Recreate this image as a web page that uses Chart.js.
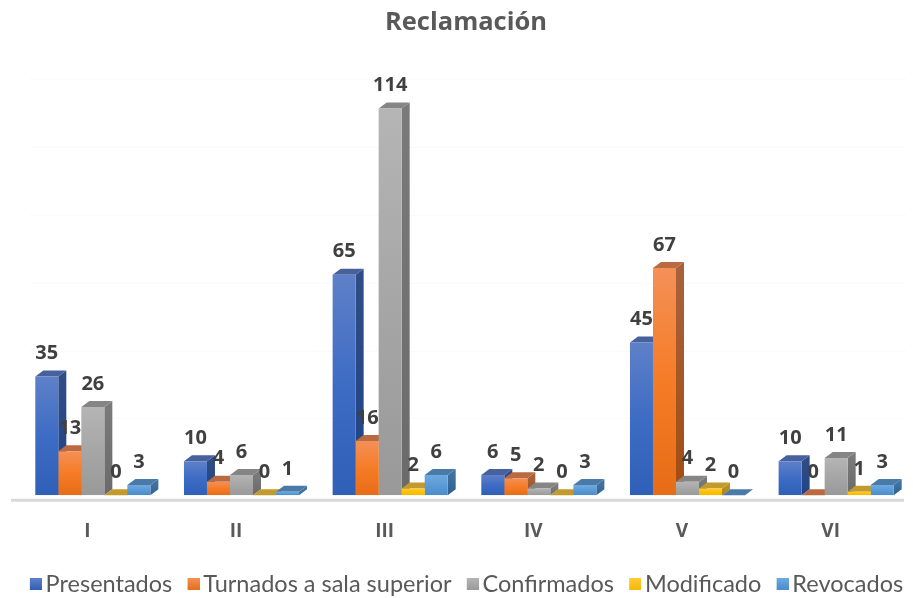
<!DOCTYPE html>
<html lang="es">
<head>
<meta charset="utf-8">
<title>Reclamación</title>
<script src="https://cdn.jsdelivr.net/npm/chart.js@4/dist/chart.umd.js"></script>
<style>
  html, body { margin: 0; padding: 0; background: #fff; }
  canvas { display: block; }
</style>
</head>
<body>
<canvas id="chart" width="913" height="598"></canvas>
<script>
const categories = ["I", "II", "III", "IV", "V", "VI"]
const seriesNames = ["Presentados", "Turnados a sala superior", "Confirmados", "Modificado", "Revocados"]
const presentados = [35, 10, 65, 6, 45, 10]
const turnados = [13, 4, 16, 5, 67, 0]
const confirmados = [26, 6, 114, 2, 4, 11]
const modificado = [0, 0, 2, 0, 2, 1]
const revocados = [3, 1, 6, 3, 0, 3]

// colores: frente (arriba, medio, abajo), lado, tapa
const palette = [
  { front: ["#5f80c8", "#3d6cc4", "#2f5fb6"], side: ["#2f4c86", "#1f4488"], top: "#46619b" },
  { front: ["#f49058", "#f57c26", "#e86c17"], side: ["#a8623a", "#a34c10"], top: "#b96a40" },
  { front: ["#b5b5b5", "#a6a6a6", "#999999"], side: ["#7a7a7a", "#6a6a6a"], top: "#858585" },
  { front: ["#ffcb3a", "#ffc000", "#f5b800"], side: ["#b88f20", "#a88000"], top: "#c39a2c" },
  { front: ["#6fa9e0", "#5b9bd5", "#4a8bcb"], side: ["#3f72a0", "#2f6090"], top: "#4a7ba8" },
]

const depthX = 8
const depthY = 6

const frontGradient = (context) => {
  const chart = context.chart
  const colors = palette[context.datasetIndex].front
  const top = chart.scales.y.getPixelForValue(context.raw)
  const base = chart.scales.y.getPixelForValue(0)
  if (!(base > top)) return colors[1]
  const g = chart.ctx.createLinearGradient(0, top, 0, base)
  g.addColorStop(0, colors[0])
  g.addColorStop(0.5, colors[1])
  g.addColorStop(1, colors[2])
  return g
}

// cuadros de la leyenda (lienzo simétrico para acercar el cuadro al texto)
const legendBox = (colors) => {
  const c = document.createElement("canvas")
  c.width = 18
  c.height = 12
  const x = c.getContext("2d")
  const g = x.createLinearGradient(0, 0, 0, 12)
  g.addColorStop(0, colors[0])
  g.addColorStop(1, colors[2])
  x.fillStyle = g
  x.fillRect(6, 0, 12, 12)
  return c
}

const bars3d = {
  id: "bars3d",
  afterLayout(chart) {
    // titulo y leyenda no van centrados en el lienzo
    chart.titleBlock.left += 9.5
    chart.titleBlock.right += 9.5
    chart.legend.left += 11
    chart.legend.right += 11
    chart.legend.top += 8
    chart.legend.bottom += 8
  },
  // lados y tapas en 3D, antes de que la librería pinte los frentes
  beforeDatasetsDraw(chart) {
    const ctx = chart.ctx
    const yScale = chart.scales.y
    ctx.save()

    // líneas de la pared del fondo
    ctx.strokeStyle = "#fafafa"
    ctx.lineWidth = 1
    yScale.ticks.forEach((tick) => {
      if (tick.value === 0) return
      const y = Math.round(yScale.getPixelForValue(tick.value) - 9) + 0.5
      ctx.beginPath()
      ctx.moveTo(30, y)
      ctx.lineTo(906, y)
      ctx.stroke()
    })

    // línea base
    ctx.fillStyle = "#d9d9d9"
    ctx.fillRect(11, yScale.getPixelForValue(0) + 3.5, 893, 3)

    chart.data.datasets.forEach((dataset, i) => {
      const colors = palette[i]
      chart.getDatasetMeta(i).data.forEach((bar) => {
        const left = bar.x - bar.width / 2
        const right = bar.x + bar.width / 2
        const top = bar.y
        const base = bar.base

        if (base > top) {
          const g = ctx.createLinearGradient(0, top, 0, base)
          g.addColorStop(0, colors.side[0])
          g.addColorStop(1, colors.side[1])
          ctx.fillStyle = g
          ctx.beginPath()
          ctx.moveTo(right, top)
          ctx.lineTo(right + depthX, top - depthY)
          ctx.lineTo(right + depthX, base - depthY)
          ctx.lineTo(right, base)
          ctx.closePath()
          ctx.fill()
        }

        ctx.fillStyle = colors.top
        ctx.beginPath()
        ctx.moveTo(left, top)
        ctx.lineTo(left + depthX, top - depthY)
        ctx.lineTo(right + depthX, top - depthY)
        ctx.lineTo(right, top)
        ctx.closePath()
        ctx.fill()
      })
    })
    ctx.restore()
  },
  afterDatasetsDraw(chart) {
    const ctx = chart.ctx
    ctx.save()
    ctx.fillStyle = "#404040"
    ctx.font = "bold 20px 'Open Sans'"
    ctx.textAlign = "center"
    ctx.textBaseline = "middle"
    chart.data.datasets.forEach((dataset, i) => {
      chart.getDatasetMeta(i).data.forEach((bar, j) => {
        ctx.fillText(dataset.data[j], bar.x, bar.y - 23)
      })
    })
    ctx.restore()
  },
}

const seriesValues = [presentados, turnados, confirmados, modificado, revocados]

new Chart(document.getElementById("chart"), {
  type: "bar",
  data: {
    labels: categories,
    datasets: seriesNames.map((name, i) => ({
      label: name,
      data: seriesValues[i],
      backgroundColor: frontGradient,
      barPercentage: 1,
      categoryPercentage: 0.774,
    })),
  },
  plugins: [bars3d],
  options: {
    responsive: false,
    animation: false,
    scales: {
      x: {
        grid: { display: false },
        border: { display: false },
        ticks: {
          color: "#595959",
          font: { family: "'Open Sans'", size: 19, weight: "bold" },
          labelOffset: -5.5,
          padding: 17,
          maxRotation: 0,
        },
        afterFit(scale) {
          scale.height = 52
        },
      },
      y: {
        min: 0,
        max: 120,
        grid: { display: false },
        border: { display: false },
        ticks: { display: false, stepSize: 20 },
        afterFit(scale) {
          scale.width = 18.5
        },
      },
      // eje vacío, solo deja el margen derecho
      margenDerecho: {
        position: "right",
        grid: { display: false },
        border: { display: false },
        ticks: { display: false },
        afterFit(scale) {
          scale.width = 2.5
        },
      },
    },
    plugins: {
      title: {
        display: true,
        text: "Reclamación",
        color: "#595959",
        font: { family: "'Open Sans'", size: 25.5, weight: "bold" },
        padding: { top: 7.5, bottom: 50 },
      },
      legend: {
        position: "bottom",
        labels: {
          color: "#595959",
          font: { family: "Lato", size: 23.5 },
          usePointStyle: true,
          boxWidth: 2,
          boxHeight: 12,
          padding: 17.25,
          generateLabels(chart) {
            return Chart.defaults.plugins.legend.labels.generateLabels(chart).map((item, i) => {
              item.pointStyle = legendBox(palette[i].front)
              return item
            })
          },
        },
      },
      tooltip: { enabled: false },
    },
  },
})
</script>
</body>
</html>
